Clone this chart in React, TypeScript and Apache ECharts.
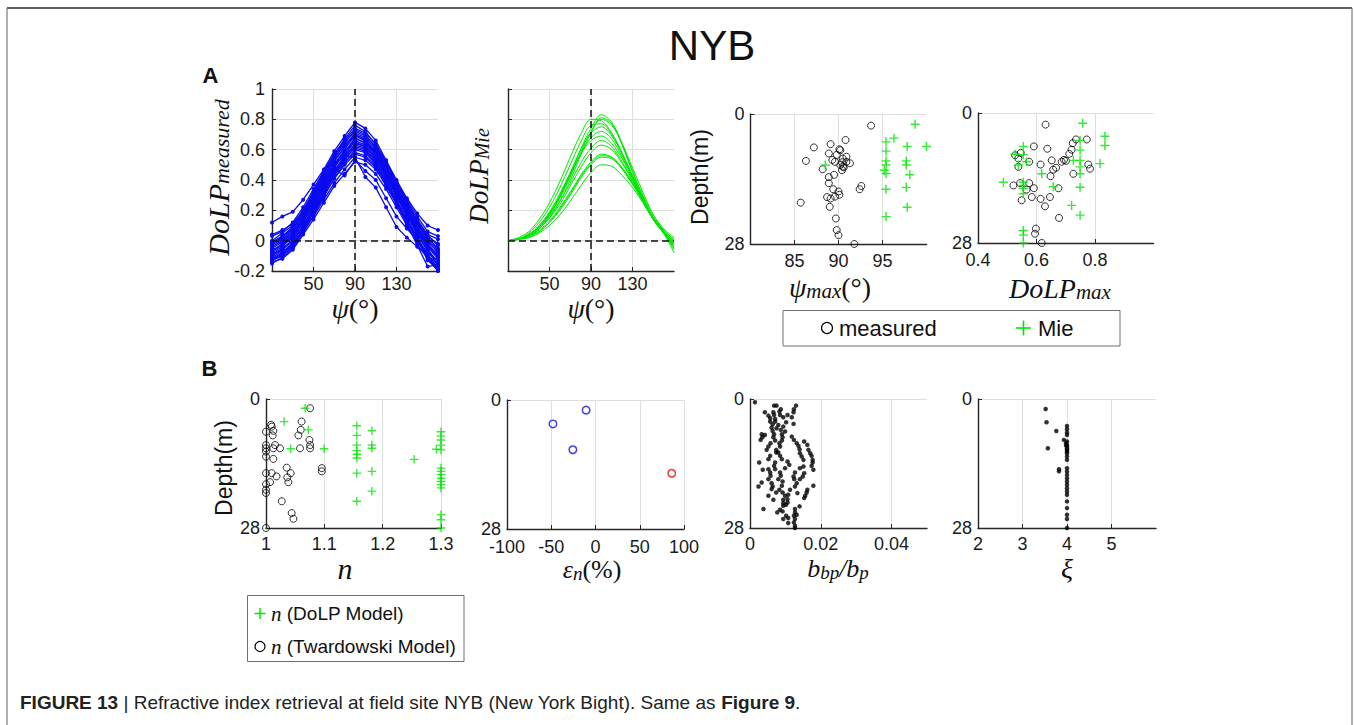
import React, { useEffect, useRef } from "react";
import * as echarts from "echarts";

const SANS = "'Liberation Sans', Arial, Helvetica, sans-serif";
const SERIF = "'Liberation Serif', 'Times New Roman', serif";
const BLUE = "#0a0af0";
const GREEN = "#00e600";
const AXIS = "#262626";
const GRIDC = "#dedede";

// ---------- Panel A data ----------
const psiSamples = [10, 20, 30, 40, 50, 60, 70, 80, 90, 100, 110, 120, 130, 140, 150, 160, 170];

const measuredDoLP: number[][] = [
  [0.12, 0.16, 0.19, 0.27, 0.37, 0.47, 0.59, 0.69, 0.78, 0.74, 0.66, 0.53, 0.4, 0.28, 0.18, 0.1, 0.07],
  [0.03, 0.06, 0.12, 0.22, 0.34, 0.46, 0.57, 0.67, 0.76, 0.72, 0.63, 0.51, 0.38, 0.26, 0.14, 0.04, 0.01],
  [-0.02, 0.02, 0.08, 0.18, 0.3, 0.42, 0.54, 0.64, 0.73, 0.7, 0.61, 0.49, 0.36, 0.24, 0.12, 0.02, -0.05],
  [-0.05, -0.01, 0.05, 0.16, 0.28, 0.4, 0.52, 0.62, 0.71, 0.68, 0.6, 0.48, 0.35, 0.22, 0.1, 0.0, -0.08],
  [-0.08, -0.04, 0.03, 0.14, 0.26, 0.38, 0.5, 0.6, 0.7, 0.66, 0.57, 0.45, 0.33, 0.2, 0.08, -0.02, -0.1],
  [-0.1, -0.06, 0.01, 0.12, 0.24, 0.36, 0.48, 0.58, 0.68, 0.64, 0.56, 0.44, 0.31, 0.18, 0.06, -0.04, -0.12],
  [-0.12, -0.08, -0.01, 0.1, 0.22, 0.34, 0.46, 0.56, 0.66, 0.63, 0.54, 0.42, 0.3, 0.17, 0.05, -0.06, -0.14],
  [0.0, 0.05, 0.1, 0.19, 0.31, 0.43, 0.55, 0.63, 0.7, 0.67, 0.58, 0.47, 0.35, 0.23, 0.12, 0.03, -0.02],
  [-0.04, 0.0, 0.06, 0.15, 0.27, 0.39, 0.5, 0.59, 0.65, 0.62, 0.55, 0.44, 0.32, 0.2, 0.09, -0.01, -0.07],
  [-0.13, -0.1, -0.04, 0.07, 0.19, 0.31, 0.43, 0.53, 0.62, 0.6, 0.52, 0.41, 0.29, 0.16, 0.04, -0.07, -0.16],
  [-0.15, -0.11, -0.05, 0.05, 0.17, 0.29, 0.41, 0.51, 0.6, 0.58, 0.5, 0.39, 0.27, 0.14, 0.02, -0.09, -0.18],
  [-0.06, -0.03, 0.02, 0.12, 0.23, 0.35, 0.46, 0.55, 0.63, 0.61, 0.53, 0.43, 0.31, 0.19, 0.07, -0.03, -0.11],
  [-0.09, -0.05, 0.0, 0.09, 0.2, 0.32, 0.43, 0.52, 0.58, 0.56, 0.49, 0.38, 0.26, 0.13, 0.01, -0.1, -0.19],
  [-0.11, -0.07, -0.03, 0.06, 0.16, 0.27, 0.38, 0.47, 0.55, 0.53, 0.47, 0.37, 0.25, 0.12, 0.0, -0.11, -0.2],
  [-0.14, -0.12, -0.06, 0.04, 0.14, 0.25, 0.36, 0.44, 0.52, 0.5, 0.44, 0.34, 0.22, 0.1, -0.02, -0.12, -0.2],
  [-0.03, 0.01, 0.07, 0.17, 0.28, 0.4, 0.5, 0.56, 0.55, 0.42, 0.35, 0.22, 0.09, 0.02, -0.04, -0.1, -0.15],
  [-0.07, -0.03, 0.04, 0.13, 0.25, 0.37, 0.47, 0.43, 0.53, 0.46, 0.4, 0.28, 0.16, 0.08, 0.0, -0.08, -0.13],
  [0.04, 0.07, 0.11, 0.2, 0.32, 0.44, 0.56, 0.66, 0.74, 0.71, 0.64, 0.52, 0.39, 0.27, 0.16, 0.06, 0.03],
  [-0.01, 0.03, 0.09, 0.2, 0.32, 0.45, 0.56, 0.65, 0.72, 0.69, 0.62, 0.5, 0.37, 0.25, 0.13, 0.03, -0.03],
  [-0.07, -0.02, 0.04, 0.14, 0.25, 0.37, 0.49, 0.58, 0.67, 0.65, 0.57, 0.46, 0.34, 0.21, 0.09, -0.03, -0.09],
  [-0.12, -0.09, -0.02, 0.08, 0.2, 0.33, 0.45, 0.55, 0.64, 0.62, 0.55, 0.44, 0.32, 0.19, 0.07, -0.05, -0.17],
  [-0.02, 0.03, 0.08, 0.17, 0.29, 0.41, 0.53, 0.61, 0.69, 0.66, 0.59, 0.47, 0.34, 0.22, 0.11, 0.01, -0.06],
  [-0.09, -0.06, 0.0, 0.1, 0.21, 0.33, 0.44, 0.54, 0.61, 0.59, 0.51, 0.4, 0.27, 0.14, 0.02, -0.13, -0.19],
  [-0.13, -0.09, -0.03, 0.07, 0.18, 0.3, 0.41, 0.5, 0.57, 0.55, 0.48, 0.36, 0.24, 0.11, -0.03, -0.17, -0.16],
];

const mieDoLP: number[][] = [
  [0.0, 0.01, 0.04, 0.09, 0.17, 0.29, 0.44, 0.6, 0.74, 0.83, 0.78, 0.64, 0.46, 0.3, 0.17, 0.08, 0.02],
  [0.0, 0.01, 0.03, 0.08, 0.15, 0.26, 0.4, 0.56, 0.71, 0.81, 0.77, 0.63, 0.45, 0.29, 0.15, 0.07, 0.0],
  [0.0, 0.02, 0.06, 0.14, 0.25, 0.39, 0.55, 0.7, 0.8, 0.79, 0.71, 0.58, 0.43, 0.28, 0.15, 0.06, -0.01],
  [0.0, 0.01, 0.05, 0.12, 0.22, 0.35, 0.5, 0.65, 0.76, 0.77, 0.7, 0.57, 0.42, 0.27, 0.14, 0.05, -0.02],
  [0.0, 0.01, 0.04, 0.1, 0.19, 0.31, 0.45, 0.6, 0.71, 0.75, 0.69, 0.57, 0.42, 0.28, 0.15, 0.06, 0.0],
  [0.0, 0.01, 0.04, 0.09, 0.18, 0.29, 0.43, 0.57, 0.68, 0.72, 0.67, 0.55, 0.41, 0.27, 0.14, 0.05, -0.03],
  [0.0, 0.01, 0.03, 0.08, 0.16, 0.26, 0.38, 0.51, 0.61, 0.66, 0.62, 0.52, 0.4, 0.27, 0.15, 0.06, -0.02],
  [0.0, 0.01, 0.03, 0.08, 0.15, 0.24, 0.36, 0.48, 0.58, 0.63, 0.6, 0.51, 0.39, 0.26, 0.14, 0.05, -0.04],
  [0.0, 0.01, 0.03, 0.07, 0.13, 0.22, 0.32, 0.43, 0.52, 0.57, 0.55, 0.48, 0.38, 0.27, 0.15, 0.06, -0.03],
  [0.0, 0.01, 0.03, 0.06, 0.12, 0.21, 0.31, 0.42, 0.51, 0.56, 0.55, 0.48, 0.38, 0.26, 0.14, 0.05, -0.05],
  [0.0, 0.01, 0.02, 0.06, 0.12, 0.2, 0.3, 0.41, 0.5, 0.55, 0.54, 0.47, 0.37, 0.26, 0.15, 0.06, -0.06],
  [0.0, 0.01, 0.02, 0.05, 0.1, 0.17, 0.26, 0.36, 0.45, 0.5, 0.49, 0.43, 0.35, 0.25, 0.14, 0.05, -0.08],
  [0.0, 0.01, 0.04, 0.09, 0.17, 0.28, 0.42, 0.58, 0.72, 0.8, 0.76, 0.64, 0.48, 0.32, 0.17, 0.07, 0.01],
  [0.0, 0.01, 0.04, 0.1, 0.18, 0.3, 0.44, 0.57, 0.66, 0.69, 0.64, 0.54, 0.42, 0.28, 0.15, 0.06, -0.01],
];

const psiTicks = [50, 90, 130];
const dolpTicks = [-0.2, 0, 0.2, 0.4, 0.6, 0.8, 1];
const depthTicks = [0, 28];
const psiMaxTicks = [85, 90, 95];
const dolpMaxTicks = [0.4, 0.6, 0.8];
const refPsi = 90;
const refDoLP = 0;

// [psi_max (deg), depth (m)]
const psiMaxMeasured = [
  [93.7, 2.5], [90.8, 5.6], [89.1, 6.5], [87.2, 7.2], [90.2, 7.8], [88.9, 8.5], [86.3, 10.1], [89.8, 8.8],
  [90.5, 9.6], [91.3, 10.6], [90.2, 11.0], [89.6, 10.3], [90.6, 11.5], [90.4, 12.1], [88.2, 11.9], [90.9, 9.2],
  [89.5, 13.1], [88.9, 13.6], [88.9, 14.9], [89.4, 16.2], [90.0, 16.7], [90.1, 17.4], [89.6, 17.8], [88.7, 17.9],
  [89.1, 18.2], [89.0, 20.0], [85.7, 19.1], [92.6, 15.5], [92.4, 16.2], [89.7, 22.5], [89.8, 25.0], [90.0, 26.1],
  [91.8, 28.0], [90.4, 10.4], [90.9, 10.3], [90.5, 11.3], [90.1, 7.6], [89.3, 9.9],
];
const psiMaxMie = [
  [98.7, 2.2], [100, 7.0], [96.3, 5.2], [95.4, 6.0], [95.4, 8.0], [97.8, 7.0], [95.4, 10.1], [97.7, 10.1],
  [97.7, 11.0], [95.4, 11.0], [95.2, 12.1], [95.4, 12.8], [98.1, 13.1], [95.4, 16.2], [97.7, 15.8], [97.8, 20.1],
  [95.4, 22.1], [88.5, 11.0],
];

// [DoLP_max, depth (m)]
const dolpMaxMeasured = [
  [0.631, 2.5], [0.591, 7.2], [0.637, 7.7], [0.724, 6.5], [0.735, 5.7], [0.546, 8.6], [0.538, 9.8], [0.538, 11.6],
  [0.575, 10.5], [0.614, 11.1], [0.652, 10.2], [0.667, 11.8], [0.686, 10.5], [0.701, 10.3], [0.712, 8.8], [0.72, 7.9],
  [0.783, 12.0], [0.777, 11.1], [0.726, 13.1], [0.648, 13.6], [0.544, 15.1], [0.521, 15.6], [0.575, 15.1], [0.566, 16.5],
  [0.591, 16.2], [0.549, 18.8], [0.584, 18.1], [0.614, 18.5], [0.646, 18.1], [0.675, 16.2], [0.629, 20.1], [0.677, 22.6],
  [0.598, 24.9], [0.595, 26.0], [0.618, 28.0], [0.657, 12.2], [0.527, 9.1], [0.694, 10.1], [0.772, 5.7],
];
const dolpMaxMie = [
  [0.758, 2.2], [0.834, 5.0], [0.834, 7.0], [0.555, 7.2], [0.527, 8.9], [0.566, 10.5], [0.749, 5.9], [0.749, 8.0],
  [0.749, 10.2], [0.726, 10.2], [0.817, 10.9], [0.749, 11.6], [0.749, 13.1], [0.618, 13.1], [0.487, 14.9], [0.555, 14.9],
  [0.555, 16.2], [0.555, 17.4], [0.657, 15.9], [0.749, 16.0], [0.72, 19.9], [0.749, 22.0], [0.555, 25.3], [0.555, 26.3],
  [0.555, 28.0], [0.538, 11.2], [0.555, 9.0], [0.555, 15.6],
];

// ---------- Panel B data ----------
const nTicks = [1, 1.1, 1.2, 1.3];
const epsTicks = [-100, -50, 0, 50, 100];
const bbpTicks = [0, 0.02, 0.04];
const xiTicks = [2, 3, 4, 5];

// [n, depth]
const nTwardowski = [
  [1.0756, 2.0], [1.0098, 6.0], [1.0126, 6.9], [1.0115, 7.9], [1.0, 7.1], [1.061, 4.9], [1.0596, 6.7], [1.0555, 7.9],
  [1.0744, 8.9], [1.0756, 10.0], [1.0756, 10.7], [1.0584, 10.7], [1.024, 10.7], [1.0155, 10.0], [1.0126, 10.7],
  [1.0, 10.0], [1.0, 10.7], [1.0, 11.4], [1.0, 12.5], [1.0126, 13.0], [1.0355, 14.9], [1.0424, 16.1], [1.0366, 17.0],
  [1.0383, 18.05], [1.018, 16.8], [1.0, 16.1], [1.0097, 16.1], [1.0069, 18.05], [1.0, 18.5], [1.0, 19.7], [1.0, 20.4],
  [1.027, 22.2], [1.0957, 15.0], [1.0957, 15.7], [1.044, 24.75], [1.047, 26.0], [1.0, 28.0], [1.0086, 5.6],
];
const nDoLPModel = [
  [1.067, 2.0], [1.031, 4.9], [1.0727, 6.7], [1.0424, 10.8], [1.0996, 10.8], [1.1557, 5.8], [1.1557, 7.9], [1.1557, 10.0],
  [1.1557, 12.0], [1.1557, 12.8], [1.1557, 16.1], [1.1557, 22.2], [1.1815, 6.9], [1.1815, 10.0], [1.1815, 10.7],
  [1.1815, 15.7], [1.1815, 20.0], [1.254, 13.1], [1.292, 10.9], [1.3, 7.1], [1.3, 8.0], [1.3, 8.9], [1.3, 10.0],
  [1.3, 11.05], [1.3, 15.0], [1.3, 15.7], [1.3, 16.4], [1.3, 17.2], [1.3, 17.9], [1.3, 18.6], [1.3, 19.3], [1.3, 25.1],
  [1.3, 26.2], [1.3, 28.0], [1.1557, 11.2],
];

// [epsilon_n (%), depth]
const epsNegative = [[-10.6, 2.2], [-48.1, 5.2], [-25.6, 10.8]];
const epsPositive = [[86.1, 15.9]];

// [b_bp/b_p, depth]
const bbpRatio = [
  [0.0014, 0.72], [0.0068, 1.44], [0.0075, 1.44], [0.013, 1.44], [0.0087, 2.24], [0.0124, 2.24],
  [0.0042, 2.89], [0.0066, 2.89], [0.0083, 2.74], [0.0123, 2.89], [0.0052, 3.61], [0.0068, 3.46], [0.0085, 3.46], [0.0106, 3.46],
  [0.0057, 4.19], [0.0071, 4.33], [0.0094, 3.97], [0.0118, 3.97], [0.0057, 4.91], [0.0071, 4.91], [0.0102, 5.05],
  [0.0064, 5.49], [0.008, 5.63], [0.0123, 5.41], [0.0061, 6.21], [0.0075, 6.35], [0.0094, 5.99],
  [0.0064, 6.93], [0.0087, 6.71], [0.0099, 7.07], [0.0033, 7.65], [0.0042, 7.8], [0.0068, 7.65], [0.009, 7.65],
  [0.0035, 8.3], [0.0066, 8.3], [0.0092, 8.3], [0.0118, 8.16], [0.003, 8.88], [0.0071, 9.02], [0.009, 9.02], [0.0124, 8.88],
  [0.0058, 9.6], [0.0083, 9.6], [0.0132, 9.6], [0.0153, 9.24], [0.0052, 10.32], [0.0085, 10.32], [0.0137, 10.18], [0.0162, 9.96],
  [0.0047, 11.04], [0.0074, 11.04], [0.014, 10.9], [0.0165, 11.04], [0.0074, 11.62], [0.008, 11.62], [0.0141, 11.77], [0.017, 11.77],
  [0.0057, 12.34], [0.0085, 12.34], [0.0146, 12.49], [0.0174, 12.34], [0.0052, 13.06], [0.009, 13.06], [0.0151, 13.21], [0.0177, 13.21],
  [0.0026, 13.79], [0.0071, 13.79], [0.0106, 13.57], [0.0177, 13.79], [0.0068, 14.51], [0.0111, 14.29], [0.0151, 14.65], [0.0174, 14.51],
  [0.0052, 15.23], [0.0071, 15.23], [0.0099, 15.01], [0.0141, 15.01], [0.0179, 15.37],
  [0.0036, 15.37], [0.0057, 15.95], [0.0085, 15.95], [0.0127, 15.95], [0.0153, 16.1],
  [0.0058, 16.67], [0.0087, 16.67], [0.0123, 16.82], [0.0149, 16.82], [0.0052, 17.4], [0.008, 17.4], [0.0125, 17.4], [0.0141, 17.4],
  [0.0033, 18.12], [0.0061, 18.26], [0.0092, 17.9], [0.0132, 18.26],
  [0.0024, 18.98], [0.0064, 18.98], [0.009, 18.84], [0.0127, 18.98], [0.0179, 18.84],
  [0.0061, 19.56], [0.0083, 19.7], [0.0113, 19.7], [0.0162, 19.7], [0.0074, 20.28], [0.0092, 20.28], [0.0134, 20.43], [0.016, 20.28],
  [0.0052, 21.0], [0.0099, 21.0], [0.0108, 20.79], [0.0156, 21.0], [0.0066, 21.87], [0.0094, 21.87], [0.0106, 21.73], [0.0153, 21.51],
  [0.0094, 22.59], [0.0106, 22.45], [0.0102, 22.95], [0.0094, 23.17], [0.014, 23.31],
  [0.0038, 23.89], [0.0085, 24.04], [0.0127, 23.89], [0.0077, 24.61], [0.0092, 24.4], [0.0127, 24.61],
  [0.0102, 25.33], [0.0124, 25.33], [0.0132, 25.12], [0.0094, 26.06], [0.0108, 25.84], [0.0127, 26.06],
  [0.0108, 26.92], [0.0124, 26.78], [0.0127, 27.5], [0.0127, 28.0],
];

// [xi, depth]
const xiValues = [
  [3.52, 2.17], [3.54, 5.05], [3.76, 6.93], [3.93, 8.88], [3.57, 10.68], [3.82, 15.23], [3.82, 15.7],
  [4, 5.85], [4, 6.57], [4, 7.29], [4, 7.8], [4, 9.24], [4, 9.96], [4, 10.32], [4, 10.68], [4, 11.04], [4, 11.4],
  [4, 11.77], [4, 12.49], [4, 13.21], [4, 15.01], [4, 15.73], [4, 16.46], [4, 17.18], [4, 17.9], [4, 18.62],
  [4, 19.35], [4, 20.07], [4, 20.79], [4, 22.23], [4, 23.68], [4, 25.12], [4, 26.06], [4, 28.0], [3.98, 9.6], [3.98, 10.1],
];

const PLUS = "path://M4.2,0H5.8V4.2H10V5.8H5.8V10H4.2V5.8H0V4.2H4.2Z";

function xAx(gridIndex: number, min: number, max: number, ticks: number[], margin = 8) {
  return {
    type: "value",
    gridIndex,
    min,
    max,
    axisLine: { show: true, onZero: false, lineStyle: { color: AXIS, width: 1.4 } },
    axisTick: { show: true, inside: true, length: 4, customValues: ticks, lineStyle: { color: AXIS, width: 1 } },
    axisLabel: { show: true, customValues: ticks, color: "#1a1a1a", fontSize: 18, fontFamily: SANS, margin },
    splitLine: { show: true, lineStyle: { color: GRIDC, width: 1 } },
  };
}
function yAx(gridIndex: number, min: number, max: number, ticks: number[], inverse: boolean, showLabel = true) {
  return {
    type: "value",
    gridIndex,
    min,
    max,
    inverse,
    axisLine: { show: true, onZero: false, lineStyle: { color: AXIS, width: 1.4 } },
    axisTick: { show: true, inside: true, length: 4, customValues: ticks, lineStyle: { color: AXIS, width: 1 } },
    axisLabel: { show: showLabel, customValues: ticks, color: "#1a1a1a", fontSize: 18, fontFamily: SANS, margin: inverse ? 6 : 7 },
    splitLine: { show: true, lineStyle: { color: GRIDC, width: 1 } },
  };
}

const LHF = 0.6;
const mathRich = (base: number, sub: number) => {
  const lh = Math.round(base * LHF);
  return {
    i: { fontFamily: SERIF, fontStyle: "italic", fontSize: base, lineHeight: lh, verticalAlign: "top", fill: "#111" },
    r: { fontFamily: SERIF, fontSize: base, lineHeight: lh, verticalAlign: "top", fill: "#111" },
    s: { fontFamily: SERIF, fontStyle: "italic", fontSize: sub, lineHeight: lh + 18, verticalAlign: "middle", fill: "#111" },
  };
};

// (x, y): centre of the base glyph row
function mathText(x: number, y: number, text: string, base: number, sub: number, rotate = false) {
  const half = Math.round(base * LHF) / 2;
  if (rotate) {
    return {
      type: "text",
      x: x - half,
      y,
      rotation: Math.PI / 2,
      style: { text, rich: mathRich(base, sub), align: "center", verticalAlign: "top" },
    };
  }
  return {
    type: "text",
    x,
    y: y - half,
    style: { text, rich: mathRich(base, sub), align: "center", verticalAlign: "top" },
  };
}

function plainText(x: number, y: number, text: string, size: number, extra: any = {}, rotate = false) {
  return {
    type: "text",
    x,
    y,
    rotation: rotate ? Math.PI / 2 : 0,
    style: { text, fontFamily: SANS, fontSize: size, fill: "#111", align: "center", verticalAlign: "middle", ...extra },
  };
}

export default function App() {
  const ref = useRef<HTMLDivElement>(null);
  useEffect(() => {
    if (!ref.current) return;
    const chart = echarts.init(ref.current, undefined, { renderer: "svg" });

    const grid = [
      { left: 272, top: 89, width: 166, height: 182 },
      { left: 508, top: 89, width: 166, height: 182 },
      { left: 750.5, top: 114, width: 176, height: 130 },
      { left: 978, top: 113, width: 175.5, height: 130 },
      { left: 266, top: 399, width: 175, height: 129 },
      { left: 507, top: 400, width: 177, height: 129 },
      { left: 750, top: 399, width: 177, height: 129 },
      { left: 978, top: 399, width: 178, height: 129 },
    ];

    const xAxis = [
      xAx(0, 10, 170, psiTicks, 4),
      xAx(1, 10, 170, psiTicks, 4),
      xAx(2, 80, 100, psiMaxTicks),
      xAx(3, 0.4, 1.0, dolpMaxTicks),
      xAx(4, 1, 1.3, nTicks, 7),
      xAx(5, -100, 100, epsTicks, 9),
      xAx(6, 0, 0.05, bbpTicks, 7),
      xAx(7, 2, 6, xiTicks, 7),
    ];
    const yAxis = [
      yAx(0, -0.2, 1, dolpTicks, false),
      yAx(1, -0.2, 1, dolpTicks, false, false),
      yAx(2, 0, 28, depthTicks, true),
      yAx(3, 0, 28, depthTicks, true),
      yAx(4, 0, 28, depthTicks, true),
      yAx(5, 0, 28, depthTicks, true),
      yAx(6, 0, 28, depthTicks, true),
      yAx(7, 0, 28, depthTicks, true),
    ];

    const refLines = (idx: number) => ({
      type: "line",
      xAxisIndex: idx,
      yAxisIndex: idx,
      data: [[refPsi, refDoLP]],
      showSymbol: false,
      lineStyle: { width: 0 },
      silent: true,
      z: 5,
      markLine: {
        silent: true,
        symbol: ["none", "none"],
        label: { show: false },
        lineStyle: { type: [7, 4], color: "#111", width: 1.5 },
        data: [{ xAxis: refPsi }, { yAxis: refDoLP }],
      },
    });

    const series: any[] = [];
    measuredDoLP.forEach((c) => {
      series.push({
        type: "line",
        xAxisIndex: 0,
        yAxisIndex: 0,
        data: psiSamples.map((p, i) => [p, c[i]]),
        symbol: "circle",
        symbolSize: 4,
        lineStyle: { color: BLUE, width: 1.3 },
        itemStyle: { color: BLUE },
        clip: false,
        silent: true,
      });
    });
    series.push(refLines(0));
    mieDoLP.forEach((c) => {
      series.push({
        type: "line",
        xAxisIndex: 1,
        yAxisIndex: 1,
        data: psiSamples.map((p, i) => [p, c[i]]),
        showSymbol: false,
        smooth: 0.35,
        lineStyle: { color: GREEN, width: 1 },
        itemStyle: { color: GREEN },
        clip: false,
        silent: true,
      });
    });
    series.push(refLines(1));

    const circles = (idx: number, data: number[][], color = "#000", size = 7, bw = 1) => ({
      type: "scatter",
      xAxisIndex: idx,
      yAxisIndex: idx,
      data,
      symbol: "circle",
      symbolSize: size,
      itemStyle: { color: "rgba(0,0,0,0)", borderColor: color, borderWidth: bw },
      clip: false,
      silent: true,
    });
    const pluses = (idx: number, data: number[][], size = 9) => ({
      type: "scatter",
      xAxisIndex: idx,
      yAxisIndex: idx,
      data,
      symbol: PLUS,
      symbolSize: size,
      itemStyle: { color: GREEN },
      clip: false,
      silent: true,
    });
    const dots = (idx: number, data: number[][]) => ({
      type: "scatter",
      xAxisIndex: idx,
      yAxisIndex: idx,
      data,
      symbol: "circle",
      symbolSize: 4.5,
      itemStyle: { color: "#000" },
      clip: false,
      silent: true,
    });

    series.push(circles(2, psiMaxMeasured));
    series.push(pluses(2, psiMaxMie));
    series.push(circles(3, dolpMaxMeasured));
    series.push(pluses(3, dolpMaxMie));
    series.push(circles(4, nTwardowski));
    series.push(pluses(4, nDoLPModel, 8.5));
    series.push(circles(5, epsNegative, "#1010e0", 7.5, 1.5));
    series.push(circles(5, epsPositive, "#e01010", 7.5, 1.5));
    series.push(dots(6, bbpRatio));
    series.push(dots(7, xiValues));

    const legendRich = { i: { fontFamily: SERIF, fontStyle: "italic", fontSize: 21, fill: "#111" } };

    const graphic: any[] = [
      // frame
      { type: "line", shape: { x1: 7, y1: 8, x2: 1352, y2: 8 }, style: { stroke: "#2a2a2a", lineWidth: 1.5 } },
      { type: "line", shape: { x1: 7, y1: 8, x2: 7, y2: 725 }, style: { stroke: "#7a7a7a", lineWidth: 1.2 } },
      { type: "line", shape: { x1: 1352, y1: 8, x2: 1352, y2: 725 }, style: { stroke: "#7a7a7a", lineWidth: 1.2 } },
      plainText(712, 45, "NYB", 42),
      plainText(210.5, 75, "A", 22, { fontWeight: "bold" }),
      plainText(209.5, 368, "B", 22, { fontWeight: "bold" }),
      // axis titles
      mathText(212.5, 177.5, "{i|DoLP}{s|measured}", 30, 22, true),
      mathText(473, 176, "{i|DoLP}{s|Mie}", 27, 20, true),
      plainText(700, 177, "Depth(m)", 23, {}, true),
      plainText(224, 468, "Depth(m)", 23, {}, true),
      mathText(355, 303, "{i|ψ}{r|(°)}", 28, 20),
      mathText(591, 303, "{i|ψ}{r|(°)}", 28, 20),
      mathText(830, 282, "{i|ψ}{s|max}{r|(°)}", 28, 21),
      mathText(1060, 283, "{i|DoLP}{s|max}", 28, 21),
      mathText(345, 562, "{i|n}", 30, 20),
      mathText(592, 564, "{i|ε}{s|n}{r|(%)}", 26, 19),
      mathText(838, 563, "{i|b}{s|bp}{i|/b}{s|p}", 26, 19),
      mathText(1067, 563, "{i|ξ}", 28, 20),
      // legend A
      { type: "rect", shape: { x: 783, y: 310.5, width: 337, height: 35.5 }, style: { fill: "#fff", stroke: "#707070", lineWidth: 1 } },
      { type: "circle", shape: { cx: 827, cy: 328, r: 5.5 }, style: { fill: "none", stroke: "#000", lineWidth: 1.2 } },
      plainText(839, 328, "measured", 22, { align: "left" }),
      { type: "line", shape: { x1: 1016, y1: 328, x2: 1031, y2: 328 }, style: { stroke: GREEN, lineWidth: 1.6 } },
      { type: "line", shape: { x1: 1023.5, y1: 320.5, x2: 1023.5, y2: 335.5 }, style: { stroke: GREEN, lineWidth: 1.6 } },
      plainText(1038, 328, "Mie", 22, { align: "left" }),
      // legend B
      { type: "rect", shape: { x: 247.5, y: 595.5, width: 216.5, height: 66 }, style: { fill: "#fff", stroke: "#707070", lineWidth: 1 } },
      { type: "line", shape: { x1: 254.5, y1: 613.5, x2: 265.5, y2: 613.5 }, style: { stroke: GREEN, lineWidth: 1.5 } },
      { type: "line", shape: { x1: 260, y1: 608, x2: 260, y2: 619 }, style: { stroke: GREEN, lineWidth: 1.5 } },
      {
        type: "text",
        x: 271,
        y: 613.5,
        style: { text: "{i|n} (DoLP Model)", fontFamily: SANS, fontSize: 19, fill: "#111", align: "left", verticalAlign: "middle", rich: legendRich },
      },
      { type: "circle", shape: { cx: 260, cy: 646.5, r: 5 }, style: { fill: "none", stroke: "#000", lineWidth: 1.2 } },
      {
        type: "text",
        x: 271,
        y: 646.5,
        style: { text: "{i|n} (Twardowski Model)", fontFamily: SANS, fontSize: 19, fill: "#111", align: "left", verticalAlign: "middle", rich: legendRich },
      },
      // caption
      {
        type: "text",
        x: 20,
        y: 702,
        style: {
          text: "{b|FIGURE 13} | Refractive index retrieval at field site NYB (New York Bight). Same as {b|Figure 9}.",
          fontFamily: SANS,
          fontSize: 19,
          fill: "#222",
          align: "left",
          verticalAlign: "middle",
          rich: { b: { fontFamily: SANS, fontWeight: "bold", fontSize: 19, fill: "#222" } },
        },
      },
    ];

    chart.setOption({
      animation: false,
      backgroundColor: "#fff",
      textStyle: { fontFamily: SANS },
      grid,
      xAxis,
      yAxis,
      series,
      graphic,
    });
    return () => chart.dispose();
  }, []);
  return <div ref={ref} style={{ position: "absolute", left: 0, top: 0, width: 1354, height: 725 }} />;
}
